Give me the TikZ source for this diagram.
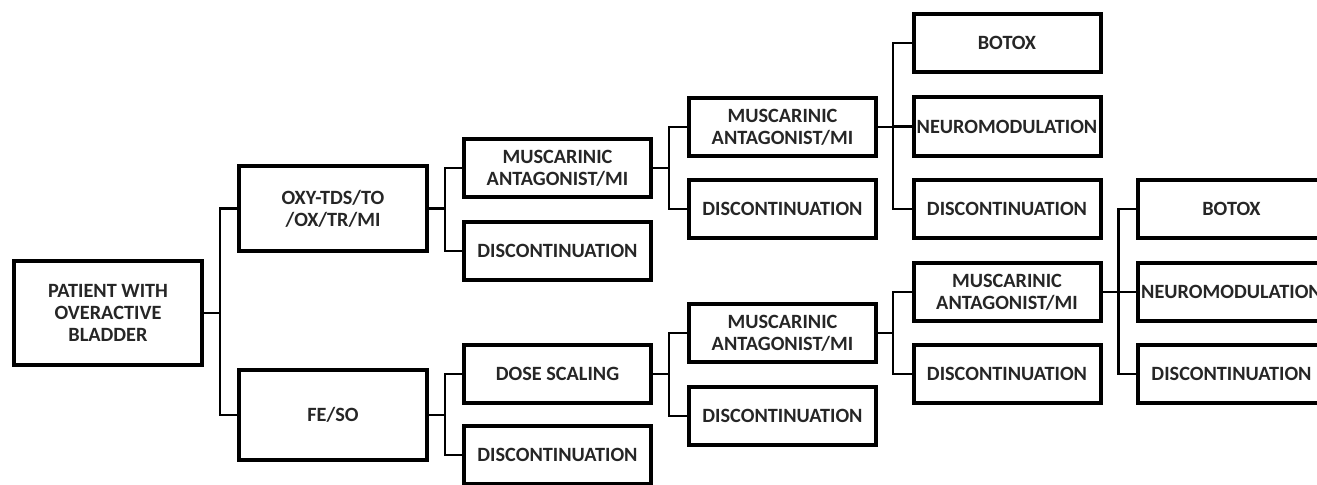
\documentclass[tikz,border=0pt]{standalone}
\usepackage{fontspec}
\setmainfont{Carlito}
\usetikzlibrary{calc}
\tikzset{
  box/.style={draw=black, line width=3pt, fill=white, align=center, inner sep=0pt,
    font=\fontsize{15.2}{16.6}\selectfont\bfseries, text=black!85,
    minimum width=140.25pt, minimum height=43.5pt},
  link/.style={draw=black, line width=1.6pt}
}
\begin{document}
\begin{tikzpicture}[x=0.75pt, y=-0.75pt]
\useasboundingbox (0,0) rectangle (1317,485);
\clip (0,0) rectangle (1317,485);
% level 0
\node[box, minimum width=141pt, minimum height=78pt] (p) at (108,313) {PATIENT WITH\\OVERACTIVE\\BLADDER};
% level 1
\node[box, minimum width=141pt, minimum height=63.75pt] (oxy) at (333,208.5) {OXY-TDS/TO\\/OX/TR/MI};
\node[box, minimum width=141pt, minimum height=67.5pt] (fe) at (333,415) {FE/SO};
% level 2
\node[box] (m2) at (557.5,168) {MUSCARINIC\\ANTAGONIST/MI};
\node[box] (d2a) at (557.5,251) {DISCONTINUATION};
\node[box] (ds) at (557.5,374) {DOSE SCALING};
\node[box] (d2b) at (557.5,455) {DISCONTINUATION};
% level 3
\node[box] (m3a) at (782.5,127) {MUSCARINIC\\ANTAGONIST/MI};
\node[box] (d3a) at (782.5,209) {DISCONTINUATION};
\node[box] (m3b) at (782.5,333) {MUSCARINIC\\ANTAGONIST/MI};
\node[box] (d3b) at (782.5,416) {DISCONTINUATION};
% level 4
\node[box] (b4) at (1007,43) {BOTOX};
\node[box] (n4) at (1007,126.5) {NEUROMODULATION};
\node[box] (d4a) at (1007,209) {DISCONTINUATION};
\node[box] (m4) at (1007,292) {MUSCARINIC\\ANTAGONIST/MI};
\node[box] (d4b) at (1007,374) {DISCONTINUATION};
% level 5
\node[box] (b5) at (1231.5,209) {BOTOX};
\node[box] (n5) at (1231.5,292) {NEUROMODULATION};
\node[box] (d5) at (1231.5,374) {DISCONTINUATION};
% connectors
\draw[link] (p.east) -- ++(16,0) coordinate (j0);
\draw[link] (j0) |- (oxy.west);
\draw[link] (j0) |- (fe.west);
\draw[link] (oxy.east) -- ++(16,0) coordinate (j1);
\draw[link] (j1) |- (m2.west);
\draw[link] (j1) |- (d2a.west);
\draw[link] (fe.east) -- ++(16,0) coordinate (j2);
\draw[link] (j2) |- (ds.west);
\draw[link] (j2) |- (d2b.west);
\draw[link] (m2.east) -- ++(16,0) coordinate (j3);
\draw[link] (j3) |- (m3a.west);
\draw[link] (j3) |- (d3a.west);
\draw[link] (ds.east) -- ++(16,0) coordinate (j4);
\draw[link] (j4) |- (m3b.west);
\draw[link] (j4) |- (d3b.west);
\draw[link] (m3a.east) -- ++(15,0) coordinate (j5);
\draw[link] (j5) |- (b4.west);
\draw[link] (j5) |- (n4.west);
\draw[link] (j5) |- (d4a.west);
\draw[link] (m3b.east) -- ++(15,0) coordinate (j6);
\draw[link] (j6) |- (m4.west);
\draw[link] (j6) |- (d4b.west);
\draw[link] (m4.east) -- ++(16,0) coordinate (j7);
\draw[link] (j7) |- (b5.west);
\draw[link] (j7) |- (n5.west);
\draw[link] (j7) |- (d5.west);
\end{tikzpicture}
\end{document}
